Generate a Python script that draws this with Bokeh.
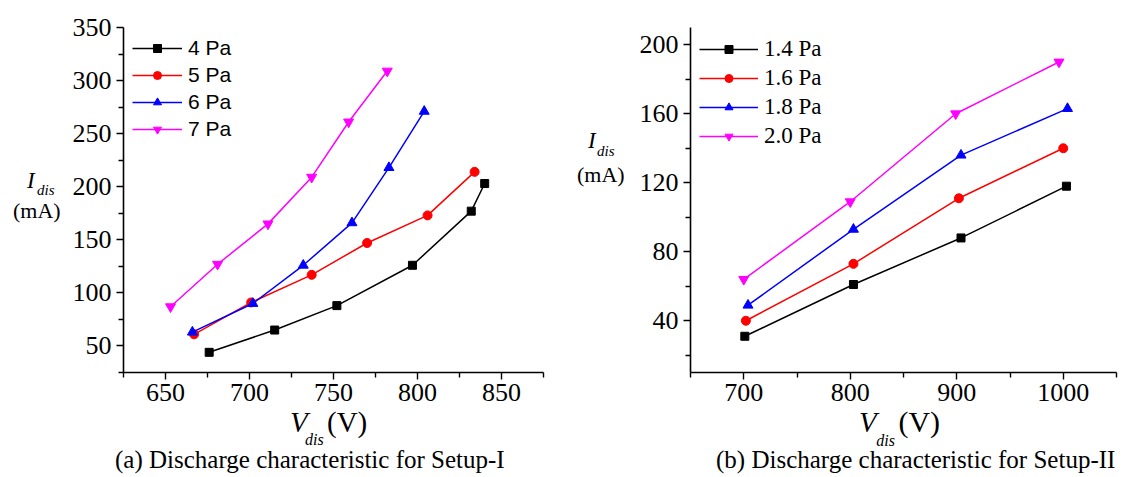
from bokeh.plotting import figure
from bokeh.layouts import row, column
from bokeh.models import Range1d, Legend, LegendItem, FixedTicker, Div
from bokeh.embed import file_html
from bokeh.resources import INLINE

# ---------------- data: Setup-I ----------------
v_4pa = [676, 715, 752, 797, 832, 840]
i_4pa = [44, 65, 88, 126, 177, 203]
v_5pa = [667, 701, 737, 770, 806, 834]
i_5pa = [61, 91, 117, 147, 173, 214]
v_6pa = [666, 702, 732, 761, 783, 804]
i_6pa = [63, 90, 126, 166, 218, 271]
v_7pa = [653, 681, 711, 737, 759, 782]
i_7pa = [87, 127, 165, 209, 261, 309]
labels_1 = ["4 Pa", "5 Pa", "6 Pa", "7 Pa"]

# ---------------- data: Setup-II ----------------
v_14 = [701, 803, 904, 1003]
i_14 = [31, 61, 88, 118]
v_16 = [702, 803, 902, 1000]
i_16 = [40, 73, 111, 140]
v_18 = [704, 803, 904, 1004]
i_18 = [49, 93, 136, 163]
v_20 = [700, 800, 899, 996]
i_20 = [64, 109, 160, 190]
labels_2 = ["1.4 Pa", "1.6 Pa", "1.8 Pa", "2.0 Pa"]

x1_ticks = [650, 700, 750, 800, 850]
y1_ticks = [50, 100, 150, 200, 250, 300, 350]
x2_ticks = [700, 800, 900, 1000]
y2_ticks = [40, 80, 120, 160, 200]

caption_1 = "(a) Discharge characteristic for Setup-I"
caption_2 = "(b) Discharge characteristic for Setup-II"

colors = ["#000000", "#ff0000", "#0000ff", "#ff00ff"]
markers = ["square", "circle", "triangle", "inverted_triangle"]
msizes = [8, 9, 10, 10]

SERIF = "Liberation Serif"
SANS = "Liberation Sans"


def style_axes(p, xt, yt, xminor, yminor):
    for ax in (p.xaxis[0], p.yaxis[0]):
        ax.axis_line_color = "black"
        ax.axis_line_width = 1.6
        ax.major_tick_line_color = "black"
        ax.minor_tick_line_color = "black"
        ax.major_tick_line_width = 1.4
        ax.minor_tick_line_width = 1.4
        ax.major_tick_in = 0
        ax.major_tick_out = 7
        ax.minor_tick_in = 0
        ax.minor_tick_out = 5
        ax.major_label_text_font = SERIF
        ax.major_label_text_font_size = "26px"
        ax.major_label_text_color = "black"
        ax.axis_label = None
    p.xaxis[0].ticker = FixedTicker(ticks=xt, minor_ticks=xminor)
    p.yaxis[0].ticker = FixedTicker(ticks=yt, minor_ticks=yminor)
    p.xaxis[0].major_label_standoff = 4
    p.yaxis[0].major_label_standoff = 5
    p.xgrid.visible = False
    p.ygrid.visible = False
    p.outline_line_color = None


# ---------------- left figure ----------------
p1 = figure(width=560, height=477, output_backend="svg", toolbar_location=None,
            x_range=Range1d(625, 875), y_range=Range1d(25, 350),
            min_border_left=123, min_border_right=17, min_border_top=27, min_border_bottom=105)
style_axes(p1, x1_ticks, y1_ticks, [625, 675, 725, 775, 825, 875], [25, 75, 125, 175, 225, 275, 325])

items1 = []
for xs, ys, c, m, s, lab in zip([v_4pa, v_5pa, v_6pa, v_7pa], [i_4pa, i_5pa, i_6pa, i_7pa],
                                colors, markers, msizes, labels_1):
    lr = p1.line(xs, ys, line_color=c, line_width=1.5)
    sr = p1.scatter(xs, ys, marker=m, size=s, fill_color=c, line_color=c)
    items1.append(LegendItem(label=lab, renderers=[lr, sr]))

leg1 = Legend(items=items1, location="top_left", margin=9, padding=0,
              glyph_width=50, glyph_height=20, label_height=20, spacing=3,
              label_standoff=6, label_text_font=SANS, label_text_font_size="21px",
              label_text_color="black",
              border_line_color=None, background_fill_alpha=0)
p1.add_layout(leg1)

# ---------------- right figure ----------------
p2 = figure(width=563, height=477, output_backend="svg", toolbar_location=None,
            x_range=Range1d(650, 1050), y_range=Range1d(10, 210),
            min_border_left=130, min_border_right=7, min_border_top=22, min_border_bottom=104)
style_axes(p2, x2_ticks, y2_ticks, [650, 750, 850, 950, 1050], [20, 60, 100, 140, 180])

items2 = []
for xs, ys, c, m, s, lab in zip([v_14, v_16, v_18, v_20], [i_14, i_16, i_18, i_20],
                                colors, markers, msizes, labels_2):
    lr = p2.line(xs, ys, line_color=c, line_width=1.5)
    sr = p2.scatter(xs, ys, marker=m, size=s, fill_color=c, line_color=c)
    items2.append(LegendItem(label=lab, renderers=[lr, sr]))

leg2 = Legend(items=items2, location="top_left", margin=9, padding=0,
              glyph_width=59, glyph_height=20, label_height=20, spacing=3,
              label_standoff=6, label_text_font=SERIF, label_text_font_size="23px",
              label_text_color="black",
              border_line_color=None, background_fill_alpha=0)
p2.add_layout(leg2)


# ---------------- axis titles and captions (HTML text over the canvases) ----------------
def span(lx, base, size, inner):
    top = base - 0.8375 * size
    return (f'<span style="position:absolute;left:{lx}px;top:{top:.1f}px;font-size:{size}px;'
            f'line-height:1;white-space:nowrap;font-family:\'Liberation Serif\';color:#000;">'
            f'{inner}</span>')


def sym(main, sub, sub_size, gap, drop, tail="", tail_gap=0, tail_size=None):
    s = (f'<i>{main}</i><i style="font-size:{sub_size}px;position:relative;top:{drop}px;'
         f'margin-left:{gap}px;">{sub}</i>')
    if tail:
        ts = f"font-size:{tail_size}px;" if tail_size else ""
        s += f'<span style="{ts}margin-left:{tail_gap}px;">{tail}</span>'
    return s


spans = [
    span(27, 187, 23, sym("I", "dis", 15, 2.3, 7)),
    span(13, 217, 22, "(mA)"),
    span(290, 431, 29, sym("V", "dis", 16, -2.7, 13, "(V)", 3.3)),
    span(115, 467, 25, caption_1),
    span(588, 147, 23, sym("I", "dis", 15, 1.3, 8)),
    span(577, 181, 22, "(mA)"),
    span(859, 430, 29, sym("V", "dis", 16, -0.5, 14, "(V)", 3.5, 30)),
    span(716, 467, 25, caption_2),
]
overlay_html = (
    '<div style="position:relative;width:0;height:0;overflow:visible;">'
    '<div style="position:absolute;left:0;top:-488px;width:1123px;height:477px;'
    'overflow:visible;pointer-events:none;z-index:10;">' + "".join(spans) + '</div></div>'
)
overlay = Div(text=overlay_html, width=1123, height=0, margin=0,
              styles={"overflow": "visible", "z-index": "10"})

layout = column(row(p1, p2, spacing=0), overlay, spacing=0)
open("out.html", "w").write(file_html(layout, INLINE))
